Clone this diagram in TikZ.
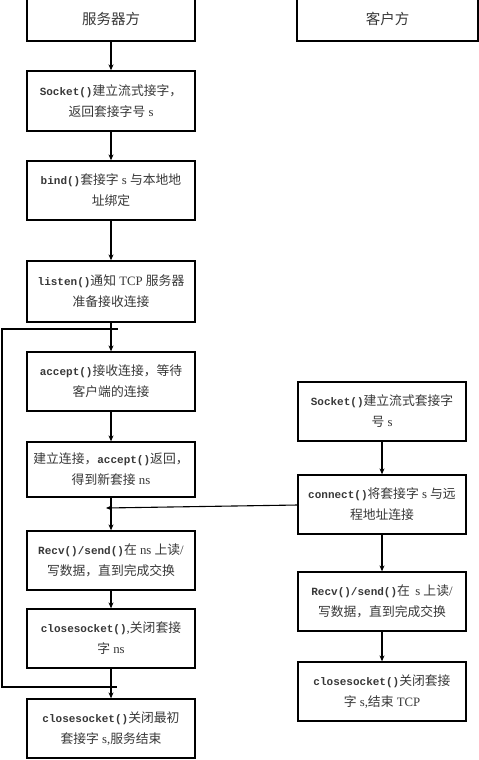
\documentclass[tikz,border=0pt]{standalone}
\usepackage{fontspec}
\setmainfont{Liberation Serif}
\setmonofont{Liberation Mono}
\newfontfamily\cjk{Noto Sans CJK SC}
\usetikzlibrary{arrows.meta}
\newcommand{\zh}[1]{{\cjk #1}}
\newcommand{\cd}[1]{{\ttfamily\bfseries\fontsize{11}{21}\selectfont #1}}
\tikzset{
  box/.style={draw=black, line width=1.3pt, rectangle, minimum width=168pt, inner sep=0pt,
    align=center, text=black!78, font=\fontsize{12.8}{21}\selectfont},
  head/.style={box, font=\fontsize{14.5}{21}\selectfont},
  conn/.style={line width=1.1pt, -{Stealth[length=6pt,width=5pt]}},
  plain/.style={line width=1.1pt}
}
\begin{document}
\begin{tikzpicture}[x=1pt,y=-1pt]
\useasboundingbox (0,0) rectangle (479,760);
\clip (0,0) rectangle (479,760);
\fill[white] (0,0) rectangle (479,760);
% headers
\node[head, minimum height=45pt] (hs) at (111,18.5) {\zh{服务器方}};
\node[head, minimum width=181pt, minimum height=45pt] (hc) at (387.5,18.5) {\zh{客户方}};
% server column
\node[box, minimum height=60pt] (s1) at (111,101) {\cd{Socket()}\zh{建立流式接字，}\\\zh{返回套接字号} s};
\node[box, minimum height=59pt] (s2) at (111,190.5) {\cd{bind()}\zh{套接字} s \zh{与本地地}\\\zh{址绑定}};
\node[box, minimum height=61pt] (s3) at (111,291.5) {\cd{listen()}\zh{通知} TCP \zh{服务器}\\\zh{准备接收连接}};
\node[box, minimum height=59pt] (s4) at (111,381.5) {\cd{accept()}\zh{接收连接，等待}\\\zh{客户端的连接}};
\node[box, minimum height=55pt] (s5) at (111,469.5) {\zh{建立连接，}\cd{accept()}\zh{返回，}\\\zh{得到新套接} ns};
\node[box, minimum height=59pt] (s6) at (111,560.5) {\cd{Recv()/send()}\zh{在} ns \zh{上读}/\\\zh{写数据，直到完成交换}};
\node[box, minimum height=59pt] (s7) at (111,638.5) {\cd{closesocket()},\zh{关闭套接}\\\zh{字} ns};
\node[box, minimum height=59pt] (s8) at (111,728.5) {\cd{closesocket()}\zh{关闭最初}\\\zh{套接字} s,\zh{服务结束}};
% client column
\node[box, minimum height=59pt] (c1) at (382,411.5) {\cd{Socket()}\zh{建立流式套接字}\\\zh{号} s};
\node[box, minimum height=59pt] (c2) at (382,504.5) {\cd{connect()}\zh{将套接字} s \zh{与远}\\\zh{程地址连接}};
\node[box, minimum height=59pt] (c3) at (382,601.5) {\cd{Recv()/send()}\zh{在}\, s \zh{上读}/\\\zh{写数据，直到完成交换}};
\node[box, minimum height=59pt] (c4) at (382,691.5) {\cd{closesocket()}\zh{关闭套接}\\\zh{字} s,\zh{结束} TCP};
% server arrows
\draw[conn] (hs) -- (s1);
\draw[conn] (s1) -- (s2);
\draw[conn] (s2) -- (s3);
\draw[conn] (s3) -- (s4);
\draw[conn] (s4) -- (s5);
\draw[conn] (s5) -- (s6);
\draw[conn] (s6) -- (s7);
\draw[conn] (s7) -- (s8);
% client arrows
\draw[conn] (c1) -- (c2);
\draw[conn] (c2) -- (c3);
\draw[conn] (c3) -- (c4);
% connect -> server junction
\coordinate (cw) at (298,505);
\coordinate (j) at (106,508);
\draw[conn] (cw) -- (j);
% loop
\coordinate (lt) at (118,329);
\coordinate (ltl) at (2,329);
\coordinate (lbl) at (2,687);
\coordinate (lb) at (117,687);
\draw[plain] (lt) -- (ltl) -- (lbl) -- (lb);
\end{tikzpicture}
\end{document}
